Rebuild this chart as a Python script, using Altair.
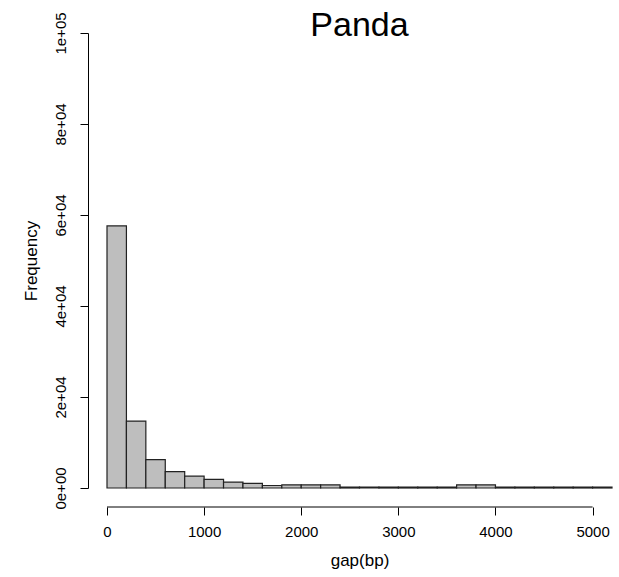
import altair as alt
import pandas as pd

# Histogram of gap lengths (bin width 200 bp)
bin_starts = list(range(0, 5200, 200))
counts = [57600, 14700, 6250, 3600, 2600, 1900, 1300, 1000, 550, 700,
          700, 700, 200, 200, 200, 200, 200, 200, 700, 700,
          200, 200, 200, 200, 200, 200]
x_ticks = [0, 1000, 2000, 3000, 4000, 5000]
y_ticks = [0, 20000, 40000, 60000, 80000, 100000]
y_tick_labels = ["0e+00", "2e+04", "4e+04", "6e+04", "8e+04", "1e+05"]
title_text = ["Panda"]

df = pd.DataFrame({"start": bin_starts, "count": counts})
df["end"] = df["start"] + 200

label_expr = " : ".join(
    f"datum.value == {v} ? '{l}'" for v, l in zip(y_ticks, y_tick_labels)
) + " : ''"

FONT = "Liberation Sans"
W, H = 505, 455

xscale = alt.Scale(domain=[0, 5200], nice=False, zero=False)
yscale = alt.Scale(domain=[0, 100000], nice=False)

bars = alt.Chart(df).mark_rect(
    fill="#bebebe", stroke="#222222", strokeWidth=1.2
).encode(
    x=alt.X("start:Q", scale=xscale,
            axis=alt.Axis(values=x_ticks, format="d", title="gap(bp)", domain=False,
                          grid=False, offset=19, tickSize=8, tickColor="#000",
                          labelFontSize=15, labelFont=FONT, labelColor="#000",
                          labelPadding=9, labelFlush=False,
                          titleFont=FONT, titleFontSize=17, titleFontWeight="normal",
                          titleColor="#000", titlePadding=13)),
    x2="end:Q",
    y=alt.Y("count:Q", scale=yscale,
            axis=alt.Axis(values=y_ticks, labelExpr=label_expr, title="Frequency",
                          grid=False, offset=19, tickSize=8, tickColor="#000",
                          domainColor="#000",
                          labelAngle=270, labelAlign="center", labelBaseline="bottom",
                          labelFontSize=15, labelFont=FONT, labelColor="#000",
                          labelPadding=12,
                          titleFont=FONT, titleFontSize=17, titleFontWeight="normal",
                          titleColor="#000", titlePadding=13)),
    y2=alt.datum(0),
)

axis_line = alt.Chart(pd.DataFrame({"a": [x_ticks[0]], "b": [x_ticks[-1]]})).mark_rule(
    color="#000", strokeWidth=1
).encode(
    x=alt.X("a:Q", scale=xscale),
    x2="b:Q",
    y=alt.value(H + 19),
)

title = alt.Chart(pd.DataFrame({"t": title_text})).mark_text(
    font=FONT, fontSize=34, color="#000", align="center", baseline="alphabetic"
).encode(
    text="t:N",
    x=alt.value(W / 2),
    y=alt.value(3),
)

chart = alt.layer(bars, axis_line, title).properties(
    width=W, height=H,
    padding={"left": 107, "top": 33, "right": 7, "bottom": 89},
    autosize="none",
    background="white",
).configure_view(strokeWidth=0, stroke="transparent")

chart.save("out.html", embed_options={"renderer": "svg", "actions": False})
